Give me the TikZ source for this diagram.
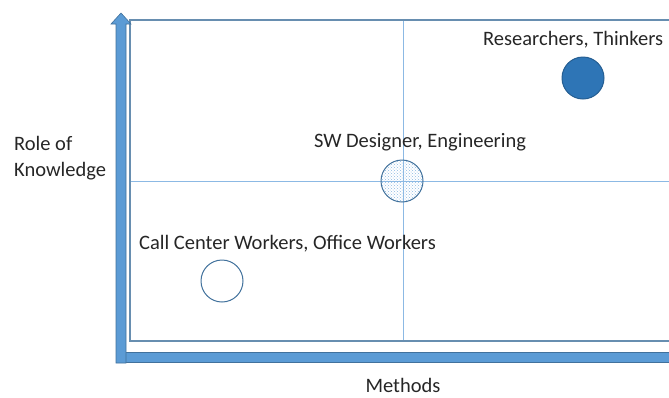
\documentclass[tikz,border=0pt]{standalone}
\usepackage{fontspec}
\setmainfont{Carlito}
\usetikzlibrary{calc}
\usetikzlibrary{patterns}
\definecolor{barblue}{RGB}{91,155,213}
\definecolor{bardark}{RGB}{65,113,156}
\definecolor{dotblue}{RGB}{46,117,182}
\definecolor{gridblue}{RGB}{140,185,228}
\tikzset{
  dotcircle/.style={circle,minimum size=42pt,inner sep=0pt,draw=bardark,line width=1pt},
  lbl/.style={font=\fontsize{20.5}{26}\selectfont,text=black!85,inner sep=0pt}
}

\begin{document}
\begin{tikzpicture}[x=1pt,y=-1pt]
	\useasboundingbox (0,0) rectangle (669,397);
	% frame and quadrant lines
	\draw [gridblue, line width=0.9pt] (403,20) -- (403,341);
	\draw [gridblue, line width=0.9pt] (130,181) -- (669,181);
	\draw [bardark!80, line width=1.1pt] (669,20) -- (130,20) -- (130,341) -- (669,341);
	% axes
	\draw [bardark, fill=barblue, line width=0.6pt] (121,352) rectangle (670,362);
	\draw [bardark, fill=barblue, line width=0.6pt] (116,363) -- (116,24) -- (111,24) -- (121,13)
	  -- (131,24) -- (126,24) -- (126,363) -- cycle;

	\node [dotcircle, fill=dotblue, draw=dotblue!80!black] (thinkers) at (583,78) {};
	\node [dotcircle, fill=white, pattern=crosshatch dots, pattern color=barblue!70] (designer) at (402,181) {};
	\node [dotcircle, fill=white] (workers) at (222,281) {};

	\node [lbl, anchor=west] (thinkersL) at (483,40) {Researchers, Thinkers};
	\node [lbl] (designerL) at (420,142) {SW Designer, Engineering};
	\node [lbl, anchor=west] (workersL) at (139,244) {Call Center Workers, Office Workers};
	\node [lbl, anchor=west, align=left] (yL) at (14,158) {Role of\\Knowledge};
	\node [lbl] (xL) at (403,385) {Methods};
\end{tikzpicture}
\end{document}
